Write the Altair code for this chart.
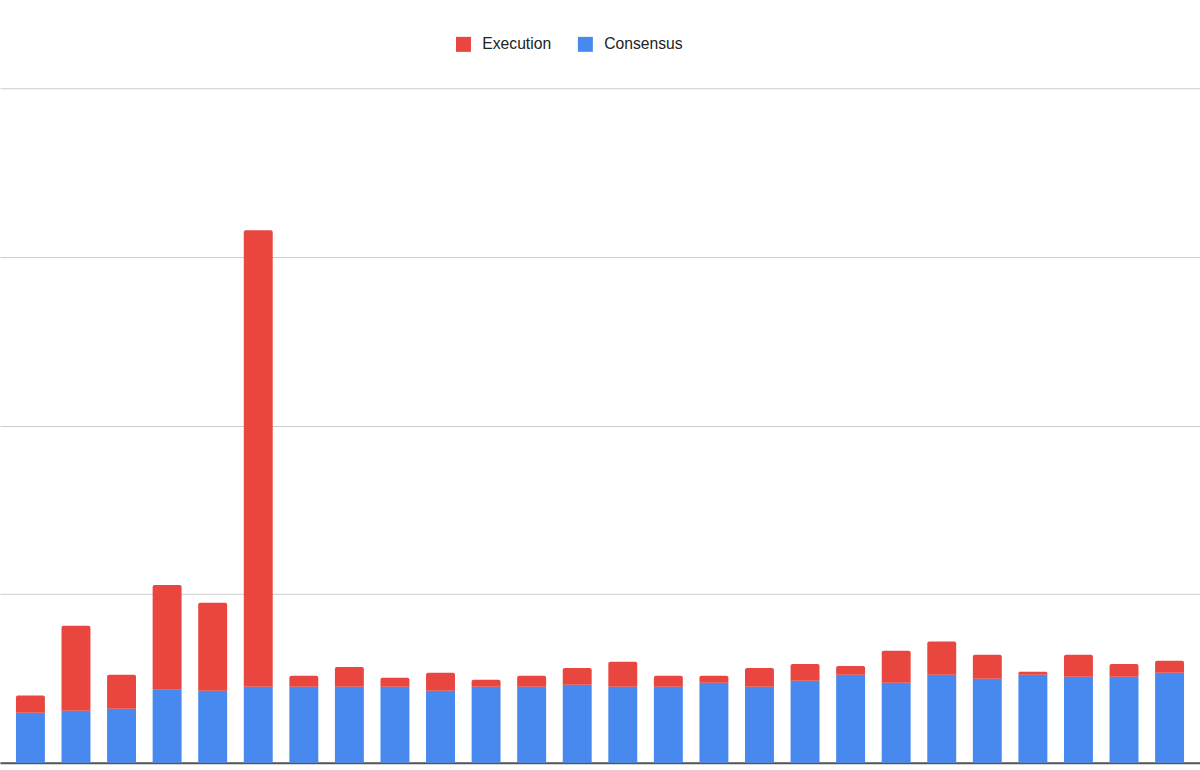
import altair as alt
import pandas as pd

categories = [f"P{i}" for i in range(1, 27)]
consensus = [1.48, 1.54, 1.60, 2.16, 2.13, 2.25, 2.25, 2.25, 2.25, 2.13, 2.25, 2.25, 2.31,
             2.25, 2.25, 2.37, 2.25, 2.43, 2.61, 2.37, 2.61, 2.49, 2.61, 2.55, 2.55, 2.67]
execution = [0.51, 2.52, 1.01, 3.11, 2.61, 13.54, 0.33, 0.59, 0.27, 0.54, 0.21, 0.33, 0.50,
             0.74, 0.33, 0.21, 0.56, 0.50, 0.26, 0.95, 0.98, 0.71, 0.09, 0.65, 0.38, 0.35]
series_names = ["Execution", "Consensus"]
series_colors = ["#E8463E", "#4889F0"]
y_ticks = [0, 5, 10, 15, 20]

rows = []
for c, cons, ex in zip(categories, consensus, execution):
    rows.append({"cat": c, "series": "Consensus", "lo": 0.0, "hi": cons})
    rows.append({"cat": c, "series": "Execution", "lo": cons, "hi": cons + ex})
df = pd.DataFrame(rows)

x_enc = alt.X("cat:N", sort=categories, title=None,
              scale=alt.Scale(paddingInner=0.365, paddingOuter=0.35),
              axis=alt.Axis(labels=False, ticks=False, domain=True, domainColor="#555555",
                            domainWidth=2, grid=False))
y_enc = alt.Y("lo:Q", title=None,
              scale=alt.Scale(domain=[0, 20], nice=False),
              axis=alt.Axis(values=y_ticks, labels=False, ticks=False, domain=False,
                            grid=True, gridColor="#cccccc", gridWidth=1))
color_enc = alt.Color("series:N",
                      scale=alt.Scale(domain=series_names, range=series_colors),
                      legend=alt.Legend(title=None, orient="none", direction="horizontal",
                                        legendX=456, legendY=-52, symbolType="square",
                                        symbolSize=225, symbolStrokeWidth=0, labelFontSize=15.7,
                                        labelFont="Liberation Sans", labelColor="#222222",
                                        labelOffset=11, columnPadding=26, padding=0))

base = alt.Chart(df).encode(x=x_enc, y=y_enc, y2="hi:Q", color=color_enc)

blue = base.transform_filter(alt.datum.series == "Consensus").mark_bar()
red = base.transform_filter(alt.datum.series == "Execution").mark_bar(
    cornerRadiusTopLeft=2, cornerRadiusTopRight=2)

chart = alt.layer(blue, red).properties(
    width=1201, height=675,
    background="white",
    autosize=alt.AutoSizeParams(type="none"),
    padding={"left": 0, "top": 88, "right": 0, "bottom": 7},
).configure_view(
    stroke="transparent", strokeWidth=0
)

chart.save("out.html", embed_options={"renderer": "svg", "actions": False})
